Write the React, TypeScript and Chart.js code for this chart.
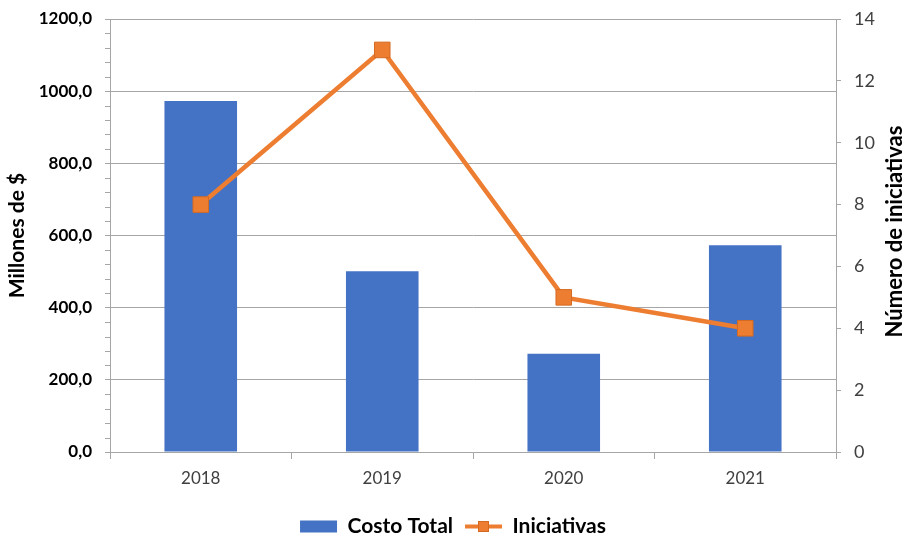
import React, { useEffect, useRef } from "react";
import { Chart, registerables } from "chart.js";
Chart.register(...registerables);

const categories = ["2018", "2019", "2020", "2021"];
const costoTotal = [973, 501, 272, 573];
const iniciativas = [8, 13, 5, 4];
const leftAxisMax = 1200;
const leftAxisStep = 200;
const leftMinorStep = 40;
const rightAxisMax = 14;
const rightAxisStep = 2;
const seriesNames = ["Costo Total", "Iniciativas"];
const leftTitle = "Millones de $";
const rightTitle = "Número de iniciativas";

const FONT = "Lato, 'Liberation Sans', sans-serif";
const GRID = "#a6a6a6";
const BLUE = "#4472c4";
const ORANGE = "#ed7d31";
const ORANGE_DARK = "#d46a22";

const extrasPlugin = {
  id: "extras",
  afterDraw(chart: any) {
    const ctx = chart.ctx;
    const y = chart.scales.y;
    const y1 = chart.scales.y1;
    ctx.save();
    // minor ticks on left axis
    ctx.strokeStyle = GRID;
    ctx.lineWidth = 1;
    for (let v = 0; v <= leftAxisMax; v += leftMinorStep) {
      if (v % leftAxisStep === 0) continue;
      const py = Math.round(y.getPixelForValue(v)) + 0.5;
      ctx.beginPath();
      ctx.moveTo(y.right - 5, py);
      ctx.lineTo(y.right, py);
      ctx.stroke();
    }
    // right axis title (reads bottom to top)
    const ca = chart.chartArea;
    ctx.fillStyle = "#000";
    ctx.font = `bold 22px ${FONT}`;
    ctx.textAlign = "center";
    ctx.textBaseline = "middle";
    ctx.translate(y1.right - 11, (ca.top + ca.bottom) / 2 - 4);
    ctx.rotate(-Math.PI / 2);
    ctx.fillText(rightTitle, 0, 0);
    ctx.restore();

    // legend line marker
    const lg = chart.legend;
    if (lg && lg.legendHitBoxes && lg.legendHitBoxes[1]) {
      const hb = lg.legendHitBoxes[1];
      const bw = lg.options.labels.boxWidth;
      const cy = hb.top + hb.height / 2;
      ctx.save();
      ctx.strokeStyle = ORANGE;
      ctx.lineWidth = 4;
      ctx.beginPath();
      ctx.moveTo(hb.left, cy);
      ctx.lineTo(hb.left + bw, cy);
      ctx.stroke();
      ctx.fillStyle = ORANGE;
      ctx.strokeStyle = ORANGE_DARK;
      ctx.lineWidth = 1;
      const s = 11;
      ctx.fillRect(hb.left + bw / 2 - s / 2, cy - s / 2, s, s);
      ctx.strokeRect(hb.left + bw / 2 - s / 2 + 0.5, cy - s / 2 + 0.5, s - 1, s - 1);
      ctx.restore();
    }
  },
};

export default function App() {
  const ref = useRef<HTMLCanvasElement | null>(null);
  useEffect(() => {
    if (!ref.current) return;
    const chart = new Chart(ref.current, {
      type: "bar",
      data: {
        labels: categories,
        datasets: [
          {
            type: "bar",
            label: seriesNames[0],
            data: costoTotal,
            backgroundColor: BLUE,
            borderWidth: 0,
            yAxisID: "y",
            order: 2,
            categoryPercentage: 1,
            barPercentage: 0.4,
          } as any,
          {
            type: "line",
            label: seriesNames[1],
            data: iniciativas,
            borderColor: ORANGE,
            backgroundColor: ORANGE,
            borderWidth: 4.5,
            pointStyle: "rect",
            pointRadius: 11,
            pointBackgroundColor: ORANGE,
            pointBorderColor: ORANGE_DARK,
            pointBorderWidth: 1,
            yAxisID: "y1",
            order: 1,
            tension: 0,
          } as any,
        ],
      },
      options: {
        animation: false,
        responsive: true,
        maintainAspectRatio: false,
        layout: { padding: { top: 19, left: 0, right: 0, bottom: -12 } },
        plugins: {
          tooltip: { enabled: false },
          legend: {
            position: "bottom",
            labels: {
              boxWidth: 37,
              boxHeight: 12,
              padding: 12,
              color: "#000",
              font: { family: FONT, size: 21, weight: "bold", lineHeight: 1 },
              generateLabels: () => [
                {
                  text: seriesNames[0],
                  fillStyle: BLUE,
                  strokeStyle: BLUE,
                  lineWidth: 0,
                  datasetIndex: 0,
                  hidden: false,
                  fontColor: "#000",
                },
                {
                  text: seriesNames[1],
                  fillStyle: "rgba(0,0,0,0)",
                  strokeStyle: "rgba(0,0,0,0)",
                  lineWidth: 0,
                  datasetIndex: 1,
                  hidden: false,
                  fontColor: "#000",
                },
              ],
            },
          },
        },
        scales: {
          x: {
            grid: {
              offset: true,
              drawOnChartArea: false,
              drawTicks: true,
              tickLength: 7,
              color: GRID,
            },
            border: { color: GRID },
            ticks: {
              color: "#404040",
              font: { family: FONT, size: 17 },
              padding: 9,
            },
            afterFit: (s: any) => {
              s.height = 52;
            },
          },
          y: {
            position: "left",
            min: 0,
            max: leftAxisMax,
            ticks: {
              stepSize: leftAxisStep,
              color: "#000",
              font: { family: FONT, size: 17, weight: "bold", lineHeight: 0.5 },
              padding: 13,
              callback: (v: any) => Number(v).toFixed(1).replace(".", ","),
            },
            grid: { color: GRID, tickLength: 5, drawTicks: true },
            border: { color: GRID },
            title: {
              display: true,
              text: leftTitle,
              color: "#000",
              font: { family: FONT, size: 21, weight: "bold" },
              padding: { top: 5, bottom: 0 },
            },
            afterFit: (s: any) => {
              s.width = 110;
            },
          },
          y1: {
            position: "right",
            min: 0,
            max: rightAxisMax,
            ticks: {
              stepSize: rightAxisStep,
              color: "#404040",
              font: { family: FONT, size: 18, lineHeight: 0.5 },
              padding: 13,
            },
            grid: {
              drawOnChartArea: false,
              drawTicks: true,
              tickLength: 5,
              color: GRID,
            },
            border: { color: GRID },
            afterFit: (s: any) => {
              s.width = 70;
            },
          },
        },
      } as any,
      plugins: [extrasPlugin],
    });
    return () => chart.destroy();
  }, []);
  return (
    <div
      style={{
        position: "absolute",
        left: 0,
        top: 0,
        width: 906,
        height: 535,
        background: "#fff",
      }}
    >
      <canvas ref={ref} />
    </div>
  );
}
